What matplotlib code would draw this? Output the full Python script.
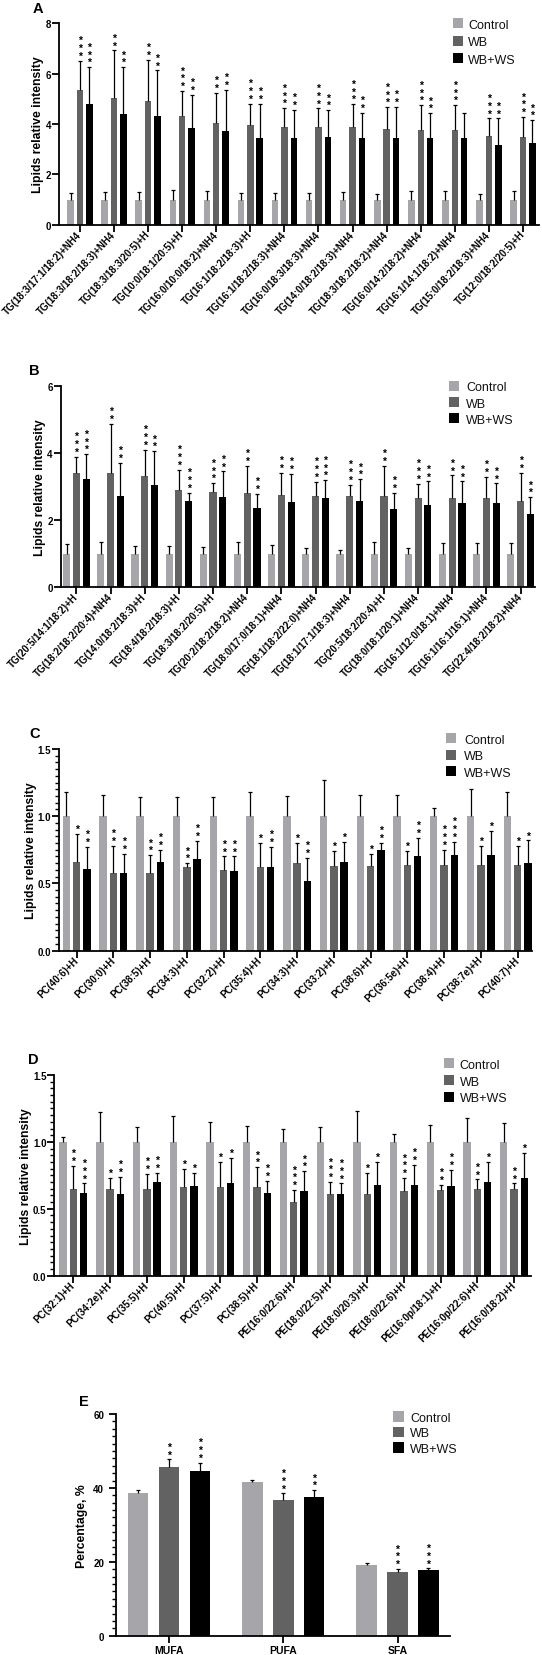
import matplotlib
matplotlib.use('Agg')
import matplotlib.pyplot as plt
from matplotlib.patches import Rectangle
from matplotlib.ticker import MultipleLocator
import numpy as np

plt.rcParams['font.family'] = ['Liberation Sans', 'DejaVu Sans']

W, H = 542, 1656
fig = plt.figure(figsize=(W / 100, H / 100), dpi=100)

series_names = ['Control', 'WB', 'WB+WS']
series_colors = ['#a6a6aa', '#626262', '#000000']

# ---------------- Panel A ----------------
a_labels = ['TG(18:3/17:1/18:2)+NH4', 'TG(18:3/18:2/18:3)+NH4', 'TG(18:3/18:3/20:5)+H',
            'TG(10:0/18:1/20:5)+H', 'TG(16:0/10:0/18:2)+NH4', 'TG(16:1/18:2/18:3)+H',
            'TG(16:1/18:2/18:3)+NH4', 'TG(16:0/18:3/18:3)+NH4', 'TG(14:0/18:2/18:3)+NH4',
            'TG(18:3/18:2/18:2)+NH4', 'TG(16:0/14:2/18:2)+NH4', 'TG(16:1/14:1/18:2)+NH4',
            'TG(15:0/18:2/18:3)+NH4', 'TG(12:0/18:2/20:5)+H']
a_ctrl = [1.0, 1.0, 1.0, 1.0, 1.0, 1.0, 1.0, 1.0, 1.0, 1.0, 1.0, 1.0, 1.0, 1.0]
a_ctrl_sd = [0.25, 0.29, 0.28, 0.38, 0.33, 0.25, 0.25, 0.25, 0.29, 0.21, 0.32, 0.32, 0.22, 0.33]
a_wb = [5.37, 5.03, 4.91, 4.30, 4.03, 3.95, 3.90, 3.90, 3.90, 3.79, 3.77, 3.77, 3.53, 3.50]
a_wb_sd = [1.15, 1.89, 1.65, 1.01, 1.22, 0.85, 0.73, 0.72, 0.89, 0.88, 0.98, 0.98, 0.69, 0.78]
a_ws = [4.80, 4.38, 4.32, 3.85, 3.74, 3.45, 3.45, 3.47, 3.45, 3.45, 3.45, 3.45, 3.18, 3.25]
a_ws_sd = [1.46, 1.88, 1.81, 1.30, 1.62, 1.35, 1.11, 1.08, 0.99, 1.24, 0.98, 0.98, 1.04, 0.90]
a_wb_sig = [3, 2, 2, 3, 2, 3, 3, 3, 3, 3, 3, 3, 3, 3]
a_ws_sig = [3, 2, 2, 2, 2, 2, 2, 2, 2, 2, 2, 0, 2, 2]
a_yticks = [0, 2, 4, 6, 8]

# ---------------- Panel B ----------------
b_labels = ['TG(20:5/14:1/18:2)+H', 'TG(18:2/18:2/20:4)+NH4', 'TG(14:0/18:2/18:3)+H',
            'TG(18:4/18:2/18:3)+H', 'TG(18:3/18:2/20:5)+H', 'TG(20:2/18:2/18:2)+NH4',
            'TG(18:0/17:0/18:1)+NH4', 'TG(18:1/18:2/22:0)+NH4', 'TG(18:1/17:1/18:3)+NH4',
            'TG(20:5/18:2/20:4)+H', 'TG(18:0/18:1/20:1)+NH4', 'TG(16:1/12:0/18:1)+NH4',
            'TG(16:1/16:1/16:1)+NH4', 'TG(22:4/18:2/18:2)+NH4']
b_ctrl = [1.0, 1.0, 1.0, 1.0, 1.0, 1.0, 1.0, 1.0, 1.0, 1.0, 1.0, 1.0, 1.0, 1.0]
b_ctrl_sd = [0.28, 0.36, 0.23, 0.23, 0.19, 0.35, 0.25, 0.17, 0.11, 0.34, 0.17, 0.31, 0.31, 0.31]
b_wb = [3.41, 3.41, 3.30, 2.89, 2.85, 2.81, 2.75, 2.73, 2.73, 2.73, 2.66, 2.66, 2.66, 2.56]
b_wb_sd = [0.48, 1.45, 0.80, 0.61, 0.25, 0.80, 0.65, 0.41, 0.32, 0.88, 0.42, 0.67, 0.63, 0.84]
b_ws = [3.22, 2.71, 3.04, 2.56, 2.70, 2.35, 2.55, 2.66, 2.56, 2.33, 2.44, 2.52, 2.50, 2.17]
b_ws_sd = [0.74, 0.99, 1.01, 0.26, 0.75, 0.44, 0.83, 0.53, 0.66, 0.49, 0.71, 0.63, 0.59, 0.51]
b_wb_sig = [3, 2, 3, 3, 3, 2, 2, 3, 3, 2, 3, 2, 2, 2]
b_ws_sig = [3, 2, 2, 3, 2, 2, 2, 3, 2, 2, 2, 2, 2, 2]
b_yticks = [0, 2, 4, 6]

# ---------------- Panel C ----------------
c_labels = ['PC(40:6)+H', 'PC(30:0)+H', 'PC(38:5)+H', 'PC(34:3)+H', 'PC(32:2)+H',
            'PC(35:4)+H', 'PC(34:3)+H', 'PC(33:2)+H', 'PC(38:6)+H', 'PC(36:5e)+H',
            'PC(38:4)+H', 'PC(38:7e)+H', 'PC(40:7)+H']
c_ctrl = [1.0, 1.0, 1.0, 1.0, 1.0, 1.0, 1.0, 1.0, 1.0, 1.0, 1.0, 1.0, 1.0]
c_ctrl_sd = [0.18, 0.16, 0.14, 0.14, 0.14, 0.18, 0.15, 0.27, 0.16, 0.16, 0.06, 0.20, 0.18]
c_wb = [0.66, 0.58, 0.58, 0.62, 0.60, 0.62, 0.65, 0.63, 0.63, 0.64, 0.64, 0.64, 0.64]
c_wb_sd = [0.21, 0.20, 0.13, 0.03, 0.10, 0.18, 0.15, 0.11, 0.09, 0.10, 0.11, 0.14, 0.14]
c_ws = [0.61, 0.58, 0.66, 0.68, 0.59, 0.62, 0.52, 0.66, 0.75, 0.70, 0.71, 0.71, 0.65]
c_ws_sd = [0.16, 0.14, 0.09, 0.135, 0.11, 0.15, 0.17, 0.15, 0.05, 0.14, 0.10, 0.18, 0.17]
c_wb_sig = [1, 2, 2, 2, 2, 1, 1, 1, 1, 1, 3, 1, 1]
c_ws_sig = [2, 2, 2, 2, 2, 2, 2, 1, 2, 2, 3, 1, 1]
c_yticks = [0.0, 0.5, 1.0, 1.5]

# ---------------- Panel D ----------------
d_labels = ['PC(32:1)+H', 'PC(34:2e)+H', 'PC(35:5)+H', 'PC(40:5)+H', 'PC(37:5)+H',
            'PC(38:5)+H', 'PE(16:0/22:6)+H', 'PE(18:0/22:5)+H', 'PE(18:0/20:3)+H',
            'PE(18:0/22:6)+H', 'PE(16:0p/18:1)+H', 'PE(16:0p/22:6)+H', 'PE(16:0/18:2)+H']
d_ctrl = [1.0, 1.0, 1.0, 1.0, 1.0, 1.0, 1.0, 1.0, 1.0, 1.0, 1.0, 1.0, 1.0]
d_ctrl_sd = [0.04, 0.22, 0.11, 0.19, 0.15, 0.12, 0.10, 0.11, 0.23, 0.06, 0.13, 0.18, 0.14]
d_wb = [0.65, 0.65, 0.65, 0.66, 0.66, 0.66, 0.55, 0.61, 0.61, 0.63, 0.64, 0.65, 0.65]
d_wb_sd = [0.17, 0.08, 0.11, 0.14, 0.19, 0.15, 0.09, 0.09, 0.16, 0.10, 0.04, 0.07, 0.04]
d_ws = [0.62, 0.61, 0.70, 0.67, 0.69, 0.62, 0.63, 0.61, 0.68, 0.68, 0.67, 0.70, 0.73]
d_ws_sd = [0.07, 0.13, 0.07, 0.10, 0.19, 0.09, 0.15, 0.08, 0.17, 0.15, 0.12, 0.15, 0.19]
d_wb_sig = [2, 1, 2, 1, 1, 2, 3, 3, 1, 3, 2, 2, 2]
d_ws_sig = [3, 2, 2, 1, 1, 2, 2, 3, 1, 2, 2, 1, 1]
d_yticks = [0.0, 0.5, 1.0, 1.5]

# ---------------- Panel E ----------------
e_labels = ['MUFA', 'PUFA', 'SFA']
e_ctrl = [38.7, 41.7, 19.2]
e_ctrl_sd = [0.7, 0.5, 0.4]
e_wb = [45.6, 36.8, 17.2]
e_wb_sd = [2.1, 1.7, 0.85]
e_ws = [44.5, 37.5, 17.7]
e_ws_sd = [2.3, 1.9, 0.5]
e_wb_sig = [2, 3, 3]
e_ws_sig = [3, 2, 3]
e_yticks = [0, 20, 40, 60]


def fx(x):
    return x / W


def fy(y):
    return 1 - y / H


def panel(letter, letter_xy, box, xlim, ylim, yticks, ytickfmt, minor, labels,
          ctrl, ctrl_sd, wb, wb_sd, ws, ws_sd, wb_sig, ws_sig,
          width, off, ylabel, legend_pos, rot=47, xlabel_size=7.0,
          ypad=0.6, xpad=0.4, ylabelpad=0.8):
    left, top, right, bottom = box
    ax = fig.add_axes([fx(left), fy(bottom), (right - left) / W, (bottom - top) / H])
    n = len(labels)
    x = np.arange(n)
    vals = [ctrl, wb, ws]
    sds = [ctrl_sd, wb_sd, ws_sd]
    for k in range(3):
        xp = x + (k - 1) * off
        v = np.array(vals[k])
        s = np.array(sds[k])
        ax.bar(xp, v, width, color=series_colors[k], zorder=2, linewidth=0)
        ax.vlines(xp, v, v + s, color='black', lw=0.9, zorder=3)
        ax.plot(xp, v + s, ls='none', marker='_', ms=3.2, mew=0.9, color='black', zorder=3)
        if k > 0:
            sig = wb_sig if k == 1 else ws_sig
            for xi, top_v, ns in zip(xp, v + s, sig):
                if ns > 0:
                    ax.text(xi, top_v, '\n'.join(['*'] * ns), ha='center', va='bottom',
                            fontsize=7.5, fontweight='bold', linespacing=0.72, zorder=4)
    ax.set_xlim(*xlim)
    ax.set_ylim(*ylim)
    for s in ['top', 'right']:
        ax.spines[s].set_visible(False)
    for s in ['left', 'bottom']:
        ax.spines[s].set_linewidth(1.3)
    ax.set_xticks(x)
    if rot:
        ax.set_xticklabels(labels, rotation=rot, ha='right', va='center',
                           rotation_mode='anchor', fontweight='bold', fontsize=xlabel_size)
    else:
        ax.set_xticklabels(labels, fontweight='bold', fontsize=xlabel_size)
    ax.set_yticks(yticks)
    ax.set_yticklabels([ytickfmt.format(t) for t in yticks], fontweight='bold', fontsize=7)
    if minor:
        ax.yaxis.set_minor_locator(MultipleLocator(minor))
        ax.tick_params(axis='y', which='minor', length=2.8, width=1.0)
    ax.tick_params(axis='both', which='major', length=5, width=1.3)
    ax.tick_params(axis='y', which='major', pad=ypad)
    ax.tick_params(axis='x', which='major', pad=xpad)
    ax.set_ylabel(ylabel, fontsize=8.8, fontweight='bold', labelpad=ylabelpad)
    fig.text(fx(letter_xy[0]), fy(letter_xy[1]), letter, fontsize=10.5, fontweight='bold',
             ha='left', va='center')
    sq_x, sq_w, tx, ys = legend_pos
    for k in range(3):
        yc = ys[k]
        fig.add_artist(Rectangle((fx(sq_x), fy(yc + sq_w / 2)), sq_w / W, sq_w / H,
                                 transform=fig.transFigure, facecolor=series_colors[k],
                                 edgecolor='none'))
        fig.text(fx(tx), fy(yc), series_names[k], fontsize=9, ha='left', va='center_baseline',
                 color='#111111')
    return ax


panel('A', (33, 9), (58.8, 24.3, 539, 225.7), (-0.62, 13.47), (0, 8), a_yticks, '{:d}', None,
      a_labels, a_ctrl, a_ctrl_sd, a_wb, a_wb_sd, a_ws, a_ws_sd, a_wb_sig, a_ws_sig,
      0.19, 0.275, 'Lipids relative intensity', (452.8, 10.2, 468, [24.3, 41.6, 59.0]))

panel('B', (29.5, 370.7), (60.5, 386.7, 535, 588.3), (-0.465, 13.42), (0, 6), b_yticks, '{:d}', None,
      b_labels, b_ctrl, b_ctrl_sd, b_wb, b_wb_sd, b_ws, b_ws_sd, b_wb_sig, b_ws_sig,
      0.21, 0.285, 'Lipids relative intensity', (448.7, 10.2, 466, [386.7, 403.0, 419.3]))

panel('C', (29.5, 734.3), (59, 750, 532.3, 951.5), (-0.48, 12.4), (0, 1.5), c_yticks, '{:.1f}', 0.05,
      c_labels, c_ctrl, c_ctrl_sd, c_wb, c_wb_sd, c_ws, c_ws_sd, c_wb_sig, c_ws_sig,
      0.2, 0.28, 'Lipids relative intensity', (446, 10.2, 464.2, [739.3, 755.8, 772.3]), rot=45)

panel('D', (27.6, 1060), (54.3, 1076, 530.6, 1276.7), (-0.52, 12.45), (0, 1.5), d_yticks, '{:.1f}', 0.05,
      d_labels, d_ctrl, d_ctrl_sd, d_wb, d_wb_sd, d_ws, d_ws_sd, d_wb_sig, d_ws_sig,
      0.2, 0.28, 'Lipids relative intensity', (444.2, 10.2, 459.7, [1064.3, 1081.0, 1097.7]), rot=45)

panel('E', (78.8, 1401.7), (116, 1415, 450.4, 1636.7), (-0.464, 2.463), (0, 60), e_yticks, '{:d}', 2,
      e_labels, e_ctrl, e_ctrl_sd, e_wb, e_wb_sd, e_ws, e_ws_sd, e_wb_sig, e_ws_sig,
      0.18, 0.27, 'Percentage, %', (393.4, 10.5, 410.3, [1417.7, 1433.0, 1448.3]), rot=0,
      xlabel_size=7.5, ypad=3.5, xpad=1.5, ylabelpad=3.5)

fig.savefig('out.png', dpi=100)
